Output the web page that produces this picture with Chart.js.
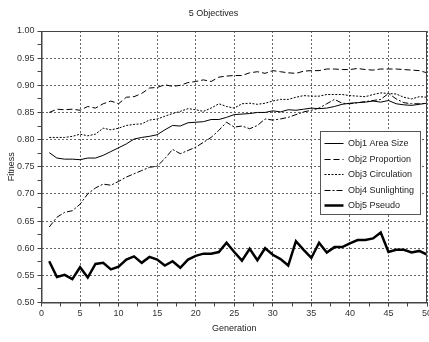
<!DOCTYPE html>
<html lang="en">
<head>
    <meta charset="UTF-8">
    <title>5 Objectives</title>
    <style>
        html, body { margin: 0; padding: 0; background: #fff; }
        .chart-box { width: 429px; height: 342px; position: relative; }
    </style>
</head>
<body>
    <div class="chart-box">
        <canvas id="fitChart"></canvas>
    </div>

    <script src="https://cdn.jsdelivr.net/npm/chart.js"></script>
    <script>
        // generations 1..50
        const generations = [];
        for (let g = 1; g <= 50; g++) generations.push(g);

        const seriesNames = ['Obj1 Area Size', 'Obj2 Proportion', 'Obj3 Circulation', 'Obj4 Sunlighting', 'Obj5 Pseudo'];

        const obj1 = [0.776, 0.766, 0.764, 0.764, 0.763, 0.766, 0.766, 0.771, 0.778, 0.785,
                      0.792, 0.801, 0.804, 0.806, 0.809, 0.818, 0.826, 0.825, 0.831, 0.832,
                      0.833, 0.837, 0.837, 0.841, 0.846, 0.847, 0.848, 0.850, 0.850, 0.853,
                      0.851, 0.855, 0.854, 0.856, 0.858, 0.857, 0.858, 0.861, 0.865, 0.867,
                      0.868, 0.869, 0.871, 0.869, 0.872, 0.866, 0.864, 0.863, 0.865, 0.867];

        const obj2 = [0.850, 0.856, 0.855, 0.856, 0.854, 0.861, 0.858, 0.866, 0.871, 0.866,
                      0.878, 0.879, 0.885, 0.895, 0.896, 0.901, 0.898, 0.900, 0.905, 0.907,
                      0.910, 0.907, 0.915, 0.917, 0.918, 0.918, 0.923, 0.925, 0.922, 0.927,
                      0.925, 0.923, 0.922, 0.926, 0.927, 0.927, 0.930, 0.930, 0.929, 0.929,
                      0.931, 0.929, 0.928, 0.930, 0.930, 0.930, 0.929, 0.928, 0.927, 0.923];

        const obj3 = [0.804, 0.804, 0.804, 0.806, 0.810, 0.807, 0.810, 0.821, 0.818, 0.821,
                      0.826, 0.828, 0.829, 0.836, 0.838, 0.843, 0.848, 0.852, 0.857, 0.855,
                      0.852, 0.858, 0.866, 0.861, 0.858, 0.866, 0.867, 0.865, 0.867, 0.871,
                      0.874, 0.874, 0.878, 0.881, 0.880, 0.880, 0.883, 0.883, 0.883, 0.881,
                      0.880, 0.879, 0.883, 0.886, 0.885, 0.884, 0.878, 0.875, 0.879, 0.878];

        const obj4 = [0.639, 0.657, 0.666, 0.669, 0.681, 0.700, 0.711, 0.718, 0.716, 0.723,
                      0.731, 0.737, 0.743, 0.749, 0.751, 0.765, 0.782, 0.774, 0.780, 0.786,
                      0.795, 0.804, 0.817, 0.832, 0.823, 0.825, 0.820, 0.826, 0.838, 0.836,
                      0.838, 0.841, 0.846, 0.851, 0.854, 0.858, 0.866, 0.874, 0.867, 0.866,
                      0.868, 0.870, 0.872, 0.874, 0.885, 0.875, 0.868, 0.866, 0.866, 0.867];

        const obj5 = [0.576, 0.547, 0.551, 0.543, 0.565, 0.546, 0.571, 0.573, 0.561, 0.566,
                      0.579, 0.585, 0.573, 0.584, 0.579, 0.568, 0.576, 0.564, 0.579, 0.586,
                      0.590, 0.590, 0.593, 0.610, 0.593, 0.577, 0.599, 0.578, 0.600, 0.588,
                      0.580, 0.568, 0.613, 0.597, 0.582, 0.610, 0.592, 0.602, 0.602, 0.609,
                      0.615, 0.615, 0.618, 0.629, 0.593, 0.597, 0.597, 0.592, 0.595, 0.588];

        const FONT = 'Liberation Sans, Arial, sans-serif';

        function toPoints(values) {
            return values.map((v, i) => ({ x: generations[i], y: v }));
        }

        const styles = [
            { width: 1, dash: [] },
            { width: 1, dash: [6, 3] },
            { width: 1, dash: [2, 1.5] },
            { width: 1, dash: [6, 2, 2, 2] },
            { width: 2.5, dash: [] }
        ];

        const allSeries = [obj1, obj2, obj3, obj4, obj5];
        const datasets = allSeries.map((vals, i) => ({
            label: seriesNames[i],
            data: toPoints(vals),
            borderColor: '#000',
            borderWidth: styles[i].width,
            borderDash: styles[i].dash,
            pointRadius: 0,
            tension: 0,
            fill: false
        }));

        function near(v, step) {
            const r = v / step;
            return Math.abs(r - Math.round(r)) < 1e-6;
        }

        // frame around the plot + legend box inside it
        const framePlugin = {
            id: 'frameAndLegend',
            afterDatasetsDraw(chart) {
                const { ctx, chartArea } = chart;
                ctx.save();
                ctx.strokeStyle = '#444';
                ctx.lineWidth = 1;
                ctx.setLineDash([]);
                ctx.strokeRect(chartArea.left + 0.5, chartArea.top + 0.5,
                               chartArea.right - chartArea.left - 1, chartArea.bottom - chartArea.top);

                // legend
                const lx = chartArea.right - 106.5;
                const ly = chartArea.top + 100.5;
                const lw = 100, lh = 83;
                ctx.fillStyle = '#fff';
                ctx.fillRect(lx, ly, lw, lh);
                ctx.strokeStyle = '#555';
                ctx.strokeRect(lx, ly, lw, lh);

                ctx.font = '9px ' + FONT;
                ctx.textBaseline = 'middle';
                ctx.textAlign = 'left';
                chart.data.datasets.forEach((ds, i) => {
                    const y = Math.round(ly + 11.5 + i * 15.6) + 0.5;
                    ctx.strokeStyle = '#000';
                    ctx.lineWidth = ds.borderWidth;
                    ctx.setLineDash(ds.borderDash);
                    ctx.beginPath();
                    ctx.moveTo(lx + 4, y);
                    ctx.lineTo(lx + 23, y);
                    ctx.stroke();
                    ctx.setLineDash([]);
                    ctx.fillStyle = '#222';
                    ctx.fillText(ds.label, lx + 27.5, y);
                });
                ctx.restore();
            }
        };

        const ctx = document.getElementById('fitChart').getContext('2d');
        new Chart(ctx, {
            type: 'line',
            data: { datasets: datasets },
            options: {
                responsive: true,
                maintainAspectRatio: false,
                animation: false,
                layout: { padding: { left: 0, right: 2, top: 0, bottom: 0 } },
                scales: {
                    x: {
                        type: 'linear',
                        min: 0,
                        max: 50,
                        afterFit(s) { s.height = 39.5; s.paddingLeft = 0; s.paddingRight = 0; },
                        ticks: {
                            stepSize: 2.5,
                            autoSkip: false,
                            maxRotation: 0,
                            padding: 2,
                            color: '#333',
                            font: { family: FONT, size: 9 },
                            callback: (v) => near(v, 5) ? String(v) : ''
                        },
                        grid: {
                            color: (c) => (c.tick && near(c.tick.value, 5)) ? '#666' : 'rgba(0,0,0,0)',
                            tickColor: '#444',
                            tickBorderDash: [],
                            tickLength: 4,
                            lineWidth: 1
                        },
                        border: { display: true, color: '#444', dash: [2, 2] },
                        title: {
                            display: true,
                            text: 'Generation',
                            color: '#222',
                            font: { family: FONT, size: 9 },
                            padding: { top: 0, bottom: 7.6 }
                        }
                    },
                    y: {
                        min: 0.5,
                        max: 1.0,
                        afterFit(s) { s.width = 41.5; s.paddingTop = 0; s.paddingBottom = 0; },
                        ticks: {
                            stepSize: 0.025,
                            autoSkip: false,
                            padding: 3,
                            color: '#333',
                            font: { family: FONT, size: 9 },
                            callback: (v) => near(v, 0.05) ? v.toFixed(2) : ''
                        },
                        grid: {
                            color: (c) => (c.tick && near(c.tick.value, 0.05)) ? '#666' : 'rgba(0,0,0,0)',
                            tickColor: '#444',
                            tickBorderDash: [],
                            tickLength: 4,
                            lineWidth: 1
                        },
                        border: { display: true, color: '#444', dash: [2, 2] },
                        title: {
                            display: true,
                            text: 'Fitness',
                            color: '#222',
                            font: { family: FONT, size: 9 },
                            padding: { top: 6.6, bottom: 0 }
                        }
                    }
                },
                plugins: {
                    legend: { display: false },
                    tooltip: { enabled: false },
                    title: {
                        display: true,
                        text: '5 Objectives',
                        color: '#222',
                        font: { family: FONT, size: 9, weight: 'normal' },
                        padding: { top: 8, bottom: 12.2 }
                    }
                }
            },
            plugins: [framePlugin]
        });
    </script>
</body>
</html>
